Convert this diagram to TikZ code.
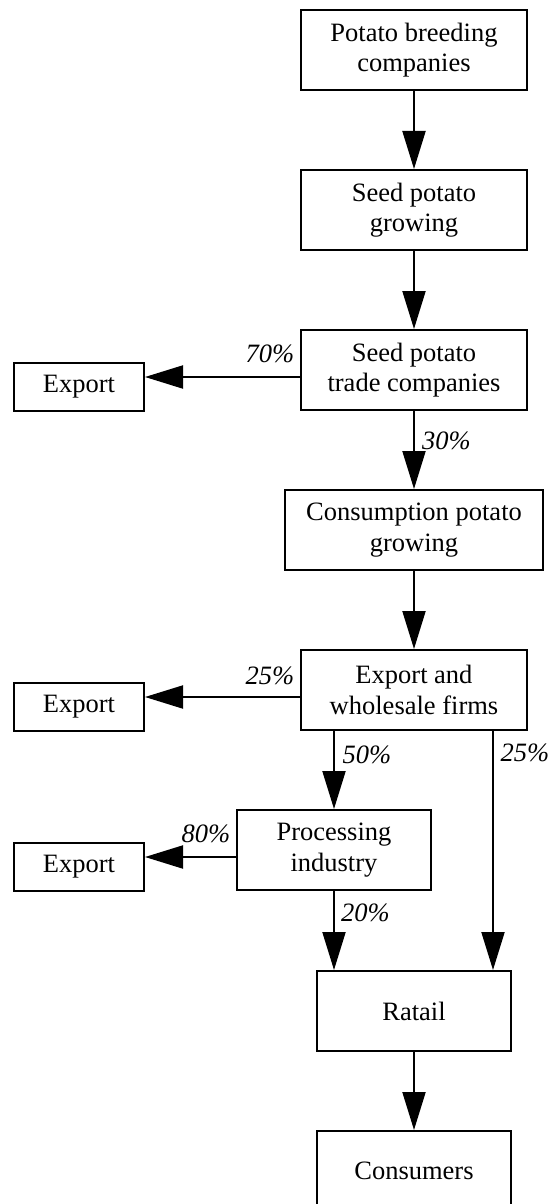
\documentclass[tikz,border=0pt]{standalone}
\usepackage{fontspec}
\setmainfont{Liberation Serif}
\usetikzlibrary{arrows.meta}
\begin{document}
\begin{tikzpicture}[x=1pt,y=-1pt,
  box/.style={draw, line width=2pt, inner sep=0pt, align=center,
    font=\fontsize{26.5}{30.5}\selectfont},
  flow/.style={line width=2pt, -{Triangle[length=38pt,width=23pt]}},
  pct/.style={font=\fontsize{26.5}{30}\selectfont\itshape, inner sep=0pt}]
\useasboundingbox (0,0) rectangle (551,1204);
% main column
\node[box, minimum width=226pt, minimum height=80pt] (b1) at (414,50) {Potato breeding\\companies};
\node[box, minimum width=226pt, minimum height=80pt] (b2) at (414,210) {Seed potato\\growing};
\node[box, minimum width=226pt, minimum height=80pt] (b3) at (414,370) {Seed potato\\trade companies};
\node[box, minimum width=258pt, minimum height=80pt] (b4) at (414,530) {Consumption potato\\growing};
\node[box, minimum width=226pt, minimum height=80pt] (b5) at (414,690) {Export and\\wholesale firms};
\node[box, minimum width=194pt, minimum height=80pt] (b6) at (334,850) {Processing\\industry};
\node[box, minimum width=194pt, minimum height=80pt] (r) at (414,1011) {Ratail};
\node[box, minimum width=194pt, minimum height=80pt] (c) at (414,1171) {Consumers};
% export boxes
\node[box, minimum width=130pt, minimum height=48pt] (e1) at (79,387) {Export};
\node[box, minimum width=130pt, minimum height=48pt] (e2) at (79,707) {Export};
\node[box, minimum width=130pt, minimum height=48pt] (e3) at (79,867) {Export};
% helper coordinates
\coordinate (y1) at (0,377);
\coordinate (y2) at (0,697);
\coordinate (y3) at (0,857);
\coordinate (xr) at (493,0);
% connectors
\draw[flow] (b1.south) -- (b2.north);
\draw[flow] (b2.south) -- (b3.north);
\draw[flow] (b3.west |- y1) -- (e1.east |- y1);
\draw[flow] (b3.south) -- (b4.north);
\draw[flow] (b4.south) -- (b5.north);
\draw[flow] (b5.west |- y2) -- (e2.east |- y2);
\draw[flow] (b5.south -| b6.north) -- (b6.north);
\draw[flow] (b5.south -| xr) -- (r.north -| xr);
\draw[flow] (b6.west |- y3) -- (e3.east |- y3);
\draw[flow] (b6.south) -- (r.north -| b6.south);
\draw[flow] (r.south) -- (c.north);
% labels
\node[pct] (l70) at (270,354) {70\%};
\node[pct] (l30) at (446.5,441) {30\%};
\node[pct] (l25a) at (270,676) {25\%};
\node[pct] (l50) at (367,755) {50\%};
\node[pct] (l25b) at (525,753) {25\%};
\node[pct] (l80) at (206,834) {80\%};
\node[pct] (l20) at (365.5,913) {20\%};
\end{tikzpicture}
\end{document}
